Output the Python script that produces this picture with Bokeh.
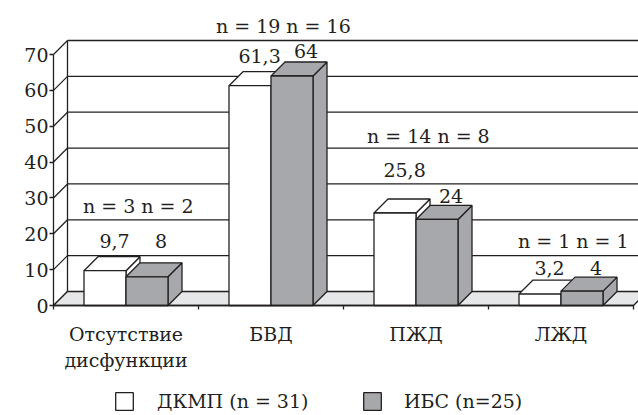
from bokeh.plotting import figure
from bokeh.models import Range1d, LinearAxis, FixedTicker, Legend, LegendItem
from bokeh.embed import file_html
from bokeh.resources import INLINE
from bokeh.core.properties import value

# ---------------- data ----------------
categories = ["Отсутствие\nдисфункции", "БВД", "ПЖД", "ЛЖД"]
dkmp = [9.7, 61.3, 25.8, 3.2]
ibs = [8, 64, 24, 4]
dkmp_text = ["9,7", "61,3", "25,8", "3,2"]
ibs_text = ["8", "64", "24", "4"]
n_text = ["n = 3 n = 2", "n = 19 n = 16", "n = 14 n = 8", "n = 1 n = 1"]
y_ticks = [0, 10, 20, 30, 40, 50, 60, 70]
series_names = ["ДКМП (n = 31)", "ИБС (n=25)"]

# label lifts above bar values (value units), as placed in the original
dkmp_lift = [6.2, 6.2, 9.9, 5.2]
ibs_lift = [7.9, 4.9, 4.7, 4.4]
n_gap = [10.0, 8.6, 9.5, 7.5]

# ---------------- layout / style ----------------
W, H = 638, 415
PXX = 145.0          # px per category
PXY = 251.0 / 70.0   # px per value unit
X0 = 53              # canvas x of value axis
Y0 = 305             # canvas y of zero line
DX = 14 / PXX
DY = 14 / PXY
BW = 42 / PXX
RAISE = 7 / PXY      # text baseline correction
INK = "#231f20"
GREY = "#a7a8ac"
FLOOR = "#e6e7e8"
FONT = "DejaVu Serif"
FS = "19px"
LW = 1.3

ncat = len(categories)
p = figure(width=W, height=H,
           x_range=Range1d(-X0 / PXX, (W - X0) / PXX),
           y_range=Range1d(-(H - Y0) / PXY, Y0 / PXY),
           output_backend="svg", toolbar_location=None,
           x_axis_type=None, y_axis_type=None, min_border=0)
p.outline_line_color = None
p.background_fill_color = "white"

top = max(y_ticks)
# back wall gridlines
p.segment(x0=[DX] * (len(y_ticks) - 1), y0=[v + DY for v in y_ticks[1:]],
          x1=[ncat + DX] * (len(y_ticks) - 1), y1=[v + DY for v in y_ticks[1:]],
          line_color=INK, line_width=LW)
# back wall left edge
p.segment(x0=[DX], y0=[DY], x1=[DX], y1=[top + DY], line_color=INK, line_width=LW)
# side wall diagonals
p.segment(x0=[0] * len(y_ticks), y0=y_ticks, x1=[DX] * len(y_ticks),
          y1=[v + DY for v in y_ticks], line_color=INK, line_width=LW)
# floor
p.patch(x=[0, ncat, ncat + DX, DX], y=[0, 0, DY, DY], fill_color=FLOOR,
        line_color=INK, line_width=LW)

centers = [i + 0.5 for i in range(ncat)]


def draw_bars(vals, left_off, color):
    lefts = [c + left_off for c in centers]
    rights = [l + BW for l in lefts]
    side_xs = [[r, r, r + DX, r + DX] for r in rights]
    side_ys = [[0, v, v + DY, DY] for v in vals]
    p.patches(xs=side_xs, ys=side_ys, fill_color=color, line_color=INK, line_width=LW)
    top_xs = [[l, r, r + DX, l + DX] for l, r in zip(lefts, rights)]
    top_ys = [[v, v, v + DY, v + DY] for v in vals]
    p.patches(xs=top_xs, ys=top_ys, fill_color=color, line_color=INK, line_width=LW)
    return p.quad(left=lefts, right=rights, bottom=[0] * ncat, top=vals,
                  fill_color=color, line_color=INK, line_width=LW)


r_white = draw_bars(dkmp, -BW, "white")
r_grey = draw_bars(ibs, 0, GREY)

txt = dict(text_font=value(FONT), text_font_size=FS, text_color=INK,
           text_align="center", text_baseline="alphabetic")
wy = [v + l + RAISE for v, l in zip(dkmp, dkmp_lift)]
gy = [v + l + RAISE for v, l in zip(ibs, ibs_lift)]
p.text(x=[c - BW / 2 + 0.066 for c in centers], y=wy, text=dkmp_text, **txt)
p.text(x=[c + BW / 2 + 0.097 for c in centers], y=gy, text=ibs_text, **txt)
p.text(x=[c + 0.085 for c in centers], y=[a + g for a, g in zip(wy, n_gap)], text=n_text, **txt)

# axes
yaxis = LinearAxis(ticker=FixedTicker(ticks=y_ticks), bounds=(0, top), fixed_location=0,
                   major_tick_in=0, major_tick_out=4, minor_tick_in=0, minor_tick_out=0,
                   major_label_standoff=1, axis_line_color=INK, axis_line_width=LW,
                   major_tick_line_color=INK, major_tick_line_width=LW,
                   major_label_text_font=FONT, major_label_text_font_size=FS,
                   major_label_text_color=INK)
p.add_layout(yaxis, "left")

xaxis = LinearAxis(ticker=FixedTicker(ticks=centers, minor_ticks=list(range(ncat + 1))),
                   bounds=(0, ncat), fixed_location=0,
                   major_tick_in=0, major_tick_out=0, minor_tick_in=0, minor_tick_out=4,
                   major_label_standoff=13, axis_line_color=INK, axis_line_width=LW,
                   minor_tick_line_color=INK, minor_tick_line_width=LW,
                   major_label_overrides={c: lab for c, lab in zip(centers, categories)},
                   major_label_text_font=FONT, major_label_text_font_size=FS,
                   major_label_text_color=INK, major_label_text_line_height=1.2)
p.add_layout(xaxis, "below")

for r, name, loc, so in [(r_white, series_names[0], (113, 3), 22),
                         (r_grey, series_names[1], (361, 3), 21)]:
    leg = Legend(items=[LegendItem(label=name, renderers=[r])], location=loc,
                 orientation="horizontal", glyph_width=22, glyph_height=22,
                 label_standoff=so, padding=0, margin=0, border_line_alpha=0,
                 background_fill_alpha=0, label_text_font=FONT,
                 label_text_font_size=FS, label_text_color=INK)
    p.add_layout(leg)

open("out.html", "w").write(file_html(p, INLINE))
